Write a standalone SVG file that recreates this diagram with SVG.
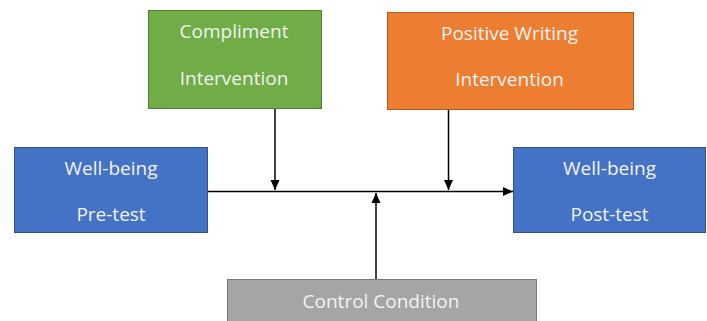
<svg xmlns="http://www.w3.org/2000/svg" width="707" height="321" viewBox="0 0 707 321">
<defs>
<marker id="ah" markerWidth="12" markerHeight="12" refX="10" refY="6" orient="auto" markerUnits="userSpaceOnUse">
<path d="M0,1.5 L10,6 L0,10.5 Z" fill="#000"/>
</marker>
<style>
.t{font-family:"Open Sans","Liberation Sans",sans-serif;font-size:19px;fill:#f2f2f2;text-anchor:middle}
.c{stroke:#000;stroke-width:1.5;fill:none}
</style>
</defs>
<rect width="707" height="321" fill="#fff"/>
<g id="compliment">
<rect x="148.5" y="10.5" width="173" height="98" fill="#70ad47" stroke="#507e32"/>
<text class="t" x="234" y="38">Compliment</text>
<text class="t" x="234" y="85">Intervention</text>
</g>
<g id="positive">
<rect x="387.5" y="12.5" width="246" height="97" fill="#ed7d31" stroke="#ae5a21"/>
<text class="t" x="509.5" y="40">Positive Writing</text>
<text class="t" x="509.5" y="86">Intervention</text>
</g>
<g id="pretest">
<rect x="14.5" y="147.5" width="193" height="85" fill="#4472c4" stroke="#2f528f"/>
<text class="t" x="111" y="175">Well-being</text>
<text class="t" x="111" y="221">Pre-test</text>
</g>
<g id="posttest">
<rect x="513.5" y="147.5" width="192" height="85" fill="#4472c4" stroke="#2f528f"/>
<text class="t" x="609.5" y="175">Well-being</text>
<text class="t" x="609.5" y="221">Post-test</text>
</g>
<g id="control">
<rect x="227.5" y="279.5" width="309" height="50" fill="#a5a5a5" stroke="#787878"/>
<text class="t" x="381" y="308">Control Condition</text>
</g>
<g id="connectors">
<line class="c" x1="208" y1="191.5" x2="513" y2="191.5" marker-end="url(#ah)"/>
<line class="c" x1="275" y1="109" x2="275" y2="190" marker-end="url(#ah)"/>
<line class="c" x1="448.5" y1="110" x2="448.5" y2="190" marker-end="url(#ah)"/>
<line class="c" x1="376" y1="279" x2="376" y2="193" marker-end="url(#ah)"/>
</g>
</svg>
